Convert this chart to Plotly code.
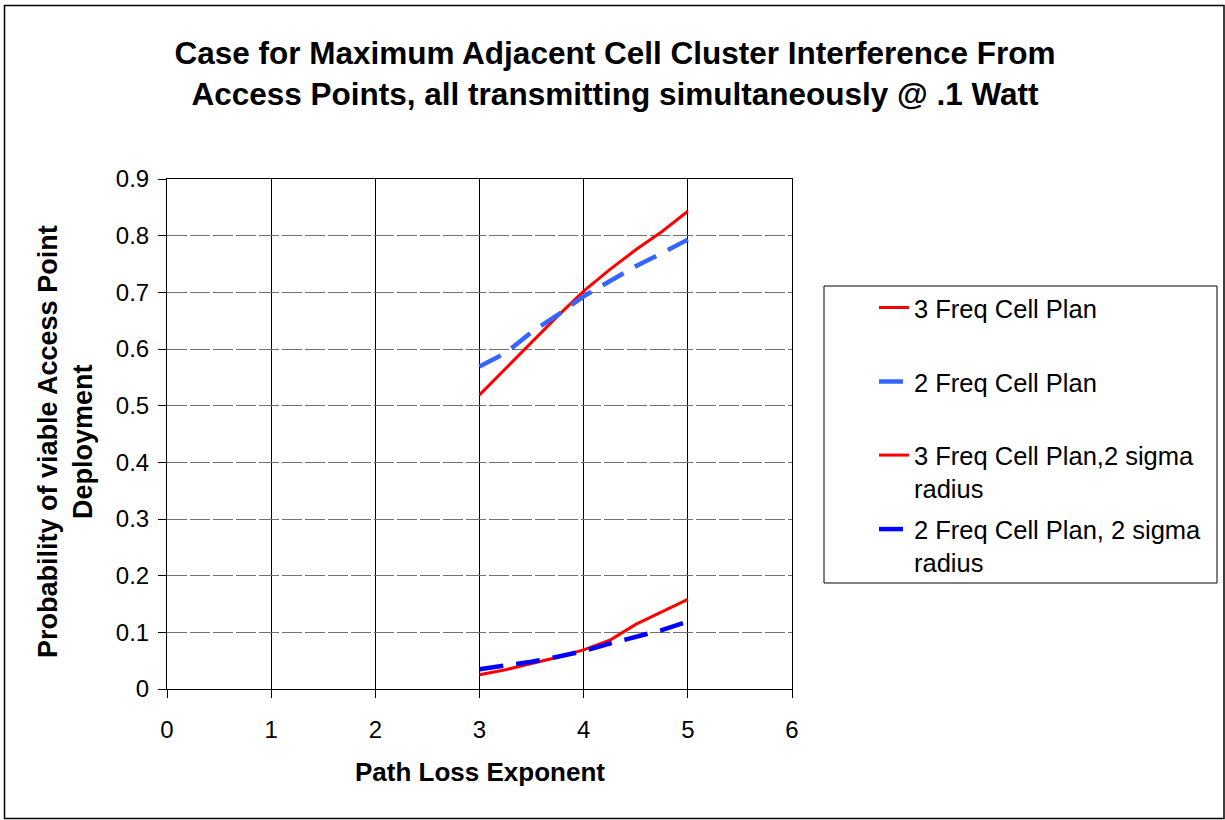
import plotly.graph_objects as go

# ---- data ----
path_loss = [3, 3.25, 3.5, 3.75, 4, 4.25, 4.5, 4.75, 5]
freq3_plan = [0.519, 0.565, 0.612, 0.658, 0.702, 0.740, 0.775, 0.807, 0.843]
freq2_plan = [0.569, 0.593, 0.630, 0.660, 0.693, 0.719, 0.746, 0.769, 0.793]
freq3_2sigma = [0.025, 0.034, 0.045, 0.056, 0.069, 0.086, 0.114, 0.136, 0.158]
freq2_2sigma = [0.035, 0.041, 0.048, 0.057, 0.067, 0.080, 0.091, 0.104, 0.119]

series_names = ["3 Freq Cell Plan", "2 Freq Cell Plan",
                "3 Freq Cell Plan,2 sigma<br>radius", "2 Freq Cell Plan, 2 sigma<br>radius"]
x_ticks = [0, 1, 2, 3, 4, 5, 6]
y_ticks = [0, 0.1, 0.2, 0.3, 0.4, 0.5, 0.6, 0.7, 0.8, 0.9]

FONT = "Liberation Sans, Arial, sans-serif"
W, H = 1225, 820
L, R, T, B = 167, 433, 179, 131
pw, ph = W - L - R, H - T - B

def px_x(p):
    return (p - L) / pw

def px_y(p):
    return (H - B - p) / ph

fig = go.Figure()
styles = [
    dict(color="#FF0000", width=3, dash="solid"),
    dict(color="#3366FF", width=4.5, dash="24px,13px"),
    dict(color="#FF0000", width=3, dash="solid"),
    dict(color="#0000FF", width=4.5, dash="24px,13px"),
]
values = [freq3_plan, freq2_plan, freq3_2sigma, freq2_2sigma]
legend_ids = ["legend", "legend2", "legend3", "legend4"]
for name, vals, st, lg in zip(series_names, values, styles, legend_ids):
    fig.add_trace(go.Scatter(x=path_loss, y=vals, mode="lines", name=name,
                             line=st, legend=lg))

legend_centers = [308, 382, 472, 546]
leg_common = dict(font=dict(family=FONT, size=25.5, color="black"),
                  bgcolor="rgba(0,0,0,0)", borderwidth=0,
                  xanchor="left", yanchor="middle", valign="top")
layout_legends = {}
for lg, cy in zip(legend_ids, legend_centers):
    layout_legends[lg] = dict(x=px_x(874), y=px_y(cy), **leg_common)

fig.update_layout(
    width=W, height=H,
    margin=dict(l=L, r=R, t=T, b=B, autoexpand=False),
    paper_bgcolor="white", plot_bgcolor="white",
    font=dict(family=FONT, color="black"),
    title=dict(text="Case for Maximum Adjacent Cell Cluster Interference From<br>Access Points, all transmitting simultaneously @ .1 Watt",
               font=dict(family=FONT, size=31.5, color="black", weight="bold"),
               x=615 / W, xanchor="center", xref="container",
               y=1 - 64 / H, yanchor="middle", yref="container"),
    xaxis=dict(range=[0, 6], tickvals=x_ticks, ticktext=[str(v) for v in x_ticks],
               showgrid=True, gridcolor="black", gridwidth=1,
               showline=True, linecolor="black", linewidth=1, mirror=True,
               ticks="outside", ticklen=8, tickcolor="black",
               tickfont=dict(family=FONT, size=24, color="black"),
               zeroline=False, fixedrange=True, ticklabelstandoff=11),
    yaxis=dict(range=[0, 0.9], tickvals=y_ticks,
               ticktext=["0" if v == 0 else f"{v:.1f}" for v in y_ticks],
               showgrid=True, gridcolor="#707070", gridwidth=1, griddash="20px,3px",
               showline=True, linecolor="black", linewidth=1, mirror=True,
               ticks="outside", ticklen=8, tickcolor="black",
               tickfont=dict(family=FONT, size=24, color="black"),
               zeroline=False, fixedrange=True, ticklabelstandoff=4),
    showlegend=True,
    **layout_legends,
)

fig.add_annotation(text="<b>Path Loss Exponent</b>", xref="paper", yref="paper",
                   x=0.5, y=px_y(772), xanchor="center", yanchor="middle",
                   showarrow=False, font=dict(family=FONT, size=26, color="black"))
fig.add_annotation(text="<b>Probability of viable Access Point<br>Deployment</b>",
                   xref="paper", yref="paper", x=px_x(65), y=px_y(442),
                   xanchor="center", yanchor="middle", textangle=-90,
                   showarrow=False, font=dict(family=FONT, size=27, color="black"))

# legend frame and chart border
fig.add_shape(type="rect", xref="paper", yref="paper",
              x0=px_x(824), x1=px_x(1217), y0=px_y(583), y1=px_y(286),
              line=dict(color="black", width=1), fillcolor="rgba(0,0,0,0)")
fig.add_shape(type="rect", xref="paper", yref="paper",
              x0=px_x(4.5), x1=px_x(1224), y0=px_y(818.5), y1=px_y(5.5),
              line=dict(color="black", width=1.5), fillcolor="rgba(0,0,0,0)")

fig.write_html("out.html")
